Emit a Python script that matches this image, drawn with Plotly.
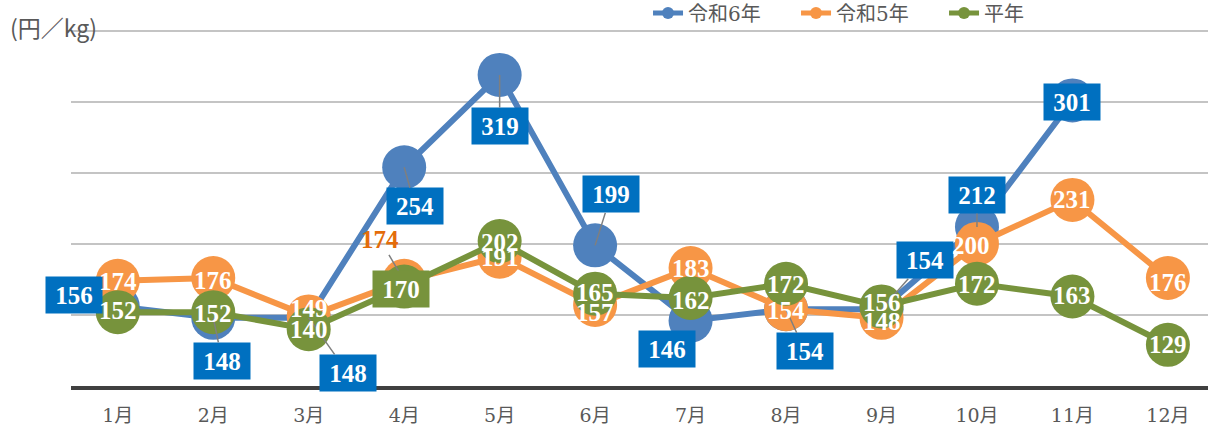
import plotly.graph_objects as go

months = ["1月", "2月", "3月", "4月", "5月", "6月", "7月", "8月", "9月", "10月", "11月", "12月"]
r6 = [156, 148, 148, 254, 319, 199, 146, 154, 154, 212, 301, None]
r5 = [174, 176, 149, 174, 191, 157, 183, 154, 148, 200, 231, 176]
avg = [152, 152, 140, 170, 202, 165, 162, 172, 156, 172, 163, 129]
names = ["令和6年", "令和5年", "平年"]

BLUE = "#4F81BD"
ORANGE = "#F79646"
GREEN = "#77933C"
BOX = "#0070C0"
LBL_FONT = "Liberation Serif"

xs = list(range(len(months)))

fig = go.Figure()
for vals, name, col in [(r6, names[0], BLUE), (r5, names[1], ORANGE), (avg, names[2], GREEN)]:
    fig.add_trace(go.Scatter(
        x=xs, y=vals, name=name, mode="lines+markers",
        line=dict(color=col, width=6),
        marker=dict(color=col, size=44),
        cliponaxis=False, hoverinfo="skip",
    ))

# label offsets (pixels): (dx, dy, leader)
blue_off = [(-44, -11, False), (9, 43, True), (39, 55, True), (11, 39, True), (0, 51, True),
            (16, -51, True), (-24, 28, False), (19, 42, True), (43, -49, True), (0, -32, True),
            (0, 2, False), None]
orange_off = [(0, 1), (0, 2), (0, -8), None, (0, 1), (0, 7), (0, 0), (0, 1), (0, 4), (-6, 2), (0, 0), (0, 4)]
green_off = [(0, -2), (0, 1), (0, 0), None, (0, 1), (0, -1), (0, 3), (0, 1), (0, -4), (0, 1), (0, -1), (0, 0)]

lblfont = dict(family=LBL_FONT, size=25, color="white")

annotations = []
for i, v in enumerate(r6):
    if v is None:
        continue
    dx, dy, lead = blue_off[i]
    a = dict(x=i, y=v, text=f"<b>{v}</b>", font=lblfont, bgcolor=BOX,
             width=56, height=36, borderpad=0, align="center", valign="middle")
    if lead:
        a.update(showarrow=True, ax=dx, ay=dy, arrowhead=0, arrowwidth=1.5, arrowcolor="#7F7F7F", standoff=0)
    else:
        a.update(showarrow=False, xshift=dx, yshift=-dy)
    annotations.append(a)

for i, v in enumerate(r5):
    if orange_off[i] is None:
        annotations.append(dict(x=i, y=v, text=f"<b>{v}</b>",
                                font=dict(family=LBL_FONT, size=25, color="#E46C0A"),
                                showarrow=True, ax=-24, ay=-41, arrowhead=0, arrowwidth=1.5,
                                arrowcolor="#7F7F7F", standoff=0))
        continue
    dx, dy = orange_off[i]
    annotations.append(dict(x=i, y=v, text=f"<b>{v}</b>", font=lblfont, showarrow=False,
                            xshift=dx, yshift=-dy))

for i, v in enumerate(avg):
    if green_off[i] is None:
        annotations.append(dict(x=i, y=v, text=f"<b>{v}</b>", font=lblfont, bgcolor=GREEN,
                                width=56, height=36, borderpad=0, showarrow=False,
                                xshift=-3, yshift=-2))
        continue
    dx, dy = green_off[i]
    annotations.append(dict(x=i, y=v, text=f"<b>{v}</b>", font=lblfont, showarrow=False,
                            xshift=dx, yshift=-dy))

annotations.append(dict(xref="paper", yref="paper", x=-0.0554, y=1.003, xanchor="left", yanchor="middle",
                        text="(円／kg)", showarrow=False,
                        font=dict(family="Noto Sans CJK JP", size=23, color="#595959")))

fig.update_layout(
    width=1208, height=428,
    margin=dict(l=71, r=0, t=28, b=42, autoexpand=False),
    paper_bgcolor="white", plot_bgcolor="white",
    showlegend=True,
    legend=dict(orientation="h", x=0.5075, y=1.042, xanchor="left", yanchor="middle",
                font=dict(family="DejaVu Serif, Noto Sans CJK JP", size=20, color="#595959"),
                itemsizing="constant", entrywidth=103, entrywidthmode="pixels",
                bgcolor="rgba(0,0,0,0)"),
    xaxis=dict(range=[-0.49, 11.42], tickmode="array", tickvals=xs, ticktext=months,
               showgrid=False, showline=True, linecolor="#404040", linewidth=4,
               ticks="", ticklabelstandoff=9,
               tickfont=dict(family="DejaVu Serif, Noto Sans CJK JP", size=19, color="#595959"),
               zeroline=False, automargin=False),
    yaxis=dict(range=[100, 352], tickmode="linear", tick0=100, dtick=50, showticklabels=False,
               gridcolor="#C4C4C4", gridwidth=1.5, zeroline=False, showline=False, automargin=False),
    annotations=annotations,
)
fig.write_html("out.html", config={"displayModeBar": False},
               post_script="document.body.style.margin='0';document.body.style.overflow='hidden';")
